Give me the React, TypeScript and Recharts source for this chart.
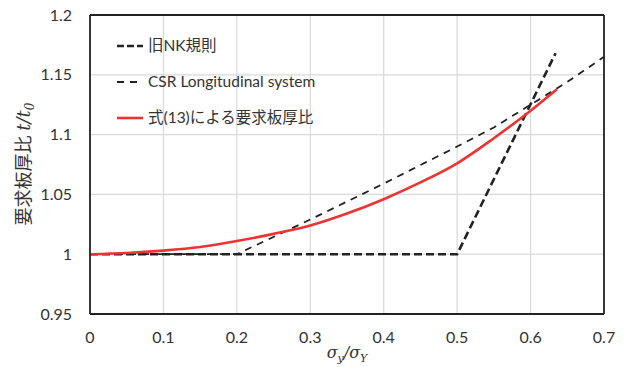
import { LineChart, Line, XAxis, YAxis, CartesianGrid, ReferenceLine } from "recharts";

// 旧NK規則
const oldNkX = [0, 0.5, 0.634];
const oldNkY = [1, 1, 1.168];

// CSR Longitudinal system
const csrX = [0, 0.2, 0.3, 0.4, 0.5, 0.55, 0.6, 0.65, 0.7];
const csrY = [1, 1, 1.029, 1.059, 1.09, 1.106, 1.125, 1.144, 1.165];

// 式(13)による要求板厚比
const eqX = [0, 0.05, 0.1, 0.15, 0.2, 0.25, 0.3, 0.35, 0.4, 0.45, 0.5, 0.55, 0.6, 0.636];
const eqY = [1, 1.001, 1.003, 1.006, 1.011, 1.017, 1.024, 1.034, 1.046, 1.06, 1.076, 1.097, 1.12, 1.138];

const xTicks = [0, 0.1, 0.2, 0.3, 0.4, 0.5, 0.6, 0.7];
const yTicks = [0.95, 1, 1.05, 1.1, 1.15, 1.2];

const toPoints = (xs: number[], ys: number[]) => xs.map((x, i) => ({ x, y: ys[i] }));

const legendItems = [
  { label: "旧NK規則", color: "#222", width: 2.6, dash: "7 3" },
  { label: "CSR Longitudinal system", color: "#222", width: 1.8, dash: "7 6" },
  { label: "式(13)による要求板厚比", color: "#ee3333", width: 2.6, dash: undefined },
];

const font = "Lato, 'Noto Sans CJK JP', sans-serif";

function LegendBox() {
  return (
    <svg width={260} height={90} style={{ position: "absolute", left: 117, top: 36 }}>
      {legendItems.map((it, i) => (
        <g key={it.label} transform={`translate(0, ${i * 36})`}>
          <line x1={0} x2={26} y1={10} y2={10} stroke={it.color} strokeWidth={it.width} strokeDasharray={it.dash} />
          <text x={31} y={15} fontSize={15.5} fill="#333" fontFamily={font}>
            {it.label}
          </text>
        </g>
      ))}
    </svg>
  );
}

export default function App() {
  return (
    <div style={{ position: "absolute", left: 0, top: 0, width: 631, height: 367, background: "#fff" }}>
      <LineChart width={631} height={367} margin={{ top: 15, right: 27, left: 30, bottom: 25 }}>
        <CartesianGrid stroke="#d9d9d9" strokeWidth={1.2} />
        <XAxis
          dataKey="x"
          type="number"
          domain={[0, 0.7]}
          ticks={xTicks}
          tickLine={false}
          tickSize={0}
          tickMargin={18}
          height={28}
          axisLine={{ stroke: "#222", strokeWidth: 1.8 }}
          tick={{ fill: "#333", fontSize: 16, fontFamily: font }}
          label={{
            content: () => (
              <text x={347} y={358} textAnchor="middle" fontSize={16} fill="#333" fontFamily="'DejaVu Serif', serif" fontStyle="italic">
                σ<tspan fontSize={11} dy={4}>y</tspan>
                <tspan dy={-4}>/σ</tspan>
                <tspan fontSize={11} dy={4}>Y</tspan>
              </text>
            ),
          }}
        />
        <YAxis
          type="number"
          domain={[0.95, 1.2]}
          ticks={yTicks}
          tickLine={false}
          tickSize={0}
          tickMargin={18}
          width={60}
          axisLine={{ stroke: "#222", strokeWidth: 1.8 }}
          tick={{ fill: "#333", fontSize: 16, fontFamily: font }}
          label={{
            content: () => (
              <text transform="translate(30, 164) rotate(-90)" textAnchor="middle" fontSize={18} fill="#333" fontFamily={font}>
                要求板厚比 <tspan fontStyle="italic" fontFamily="'DejaVu Serif', serif">t/t</tspan>
                <tspan fontStyle="italic" fontFamily="'DejaVu Serif', serif" fontSize={12} dy={4}>0</tspan>
              </text>
            ),
          }}
        />
        <ReferenceLine y={1.2} stroke="#222" strokeWidth={1.8} />
        <ReferenceLine x={0.7} stroke="#222" strokeWidth={1.8} />
        <Line
          data={toPoints(csrX, csrY)}
          dataKey="y"
          type="linear"
          stroke="#222"
          strokeWidth={1.8}
          strokeDasharray="7 6"
          dot={false}
          isAnimationActive={false}
        />
        <Line
          data={toPoints(oldNkX, oldNkY)}
          dataKey="y"
          type="linear"
          stroke="#222"
          strokeWidth={2.6}
          strokeDasharray="8 4"
          dot={false}
          isAnimationActive={false}
        />
        <Line
          data={toPoints(eqX, eqY)}
          dataKey="y"
          type="monotone"
          stroke="#ee3333"
          strokeWidth={2.6}
          dot={false}
          isAnimationActive={false}
        />
      </LineChart>
      <LegendBox />
    </div>
  );
}
